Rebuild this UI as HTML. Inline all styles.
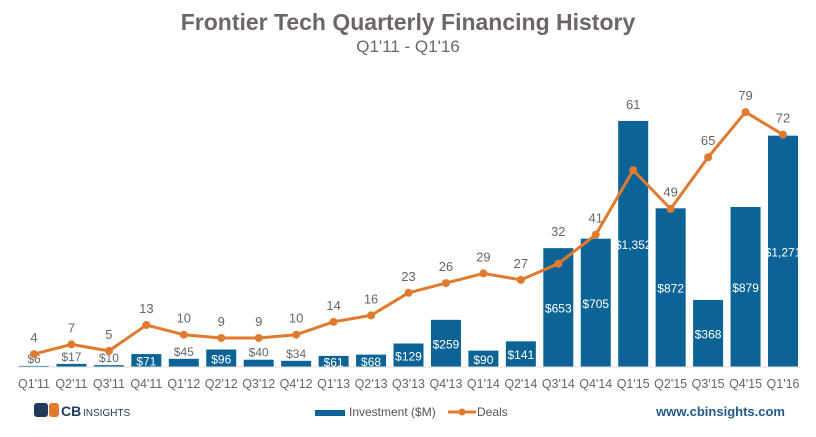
<!DOCTYPE html>
<html><head><meta charset="utf-8"><style>
body{margin:0;background:#fff;font-family:"Liberation Sans",sans-serif;}
svg text{font-family:"Liberation Sans",sans-serif;}
</style></head><body>
<svg id="chart" width="816" height="432" xmlns="http://www.w3.org/2000/svg">
<text x="408" y="30" text-anchor="middle" font-size="23" font-weight="bold" fill="#6e6664">Frontier Tech Quarterly Financing History</text>
<text x="408" y="52" text-anchor="middle" font-size="17" fill="#6e6664">Q1'11 - Q1'16</text>
<g id="bars"></g><g id="line"></g><g id="xlabels"></g>
<line x1="18" y1="367" x2="800" y2="367" stroke="#ddd"/>
<g>
<rect x="34" y="403" width="14" height="14" rx="3" fill="#1f3a5a"/>
<rect x="49" y="403" width="10" height="14" rx="3" fill="#e07a2e"/>
<text x="61" y="416" font-size="14" font-weight="bold" fill="#1f3a5a">CB</text>
<text x="83" y="416" font-size="10" fill="#1f3a5a">INSIGHTS</text>
</g>
<g>
<rect x="315" y="410" width="30" height="6" fill="#0b6396"/>
<text x="349" y="416" font-size="12" fill="#555">Investment ($M)</text>
<line x1="448" y1="412" x2="476" y2="412" stroke="#e07a2e" stroke-width="3"/>
<circle cx="462" cy="412" r="3.5" fill="#e07a2e"/>
<text x="477" y="416" font-size="12" fill="#555">Deals</text>
</g>
<text x="785" y="416" text-anchor="end" font-size="13" font-weight="bold" fill="#1f5a8a">www.cbinsights.com</text>
</svg>
<script>
const categories=["Q1'11","Q2'11","Q3'11","Q4'11","Q1'12","Q2'12","Q3'12","Q4'12","Q1'13","Q2'13","Q3'13","Q4'13","Q1'14","Q2'14","Q3'14","Q4'14","Q1'15","Q2'15","Q3'15","Q4'15","Q1'16"];
const investment=[6,17,10,71,45,96,40,34,61,68,129,259,90,141,653,705,1352,872,368,879,1271];
const investmentLabels=["$6","$17","$10","$71","$45","$96","$40","$34","$61","$68","$129","$259","$90","$141","$653","$705","$1,352","$872","$368","$879","$1,271"];
const deals=[4,7,5,13,10,9,9,10,14,16,23,26,29,27,32,41,61,49,65,79,72];
const NS="http://www.w3.org/2000/svg";
const x0=34,step=(783-34)/20,base=367,bw=30;
function xPos(i){return x0+i*step;}
function yBar(v){return base-v*0.182;}
function yDeal(v){return base-v*3.227;}
function mk(tag,attrs,parent){const e=document.createElementNS(NS,tag);for(const k in attrs)e.setAttribute(k,attrs[k]);parent.appendChild(e);return e;}
const gb=document.getElementById('bars'),gl=document.getElementById('line'),gx=document.getElementById('xlabels');
investment.forEach((v,i)=>{
  const top=yBar(v),h=base-top;
  const r=mk('rect',{x:xPos(i)-bw/2,y:top,width:bw,height:h,fill:'#0b6396'},gb);
  
  
  const inside=h>=11;
  const t=mk('text',{x:xPos(i),y:inside?(top+h/2+5):(top-3),'text-anchor':'middle','font-size':'12',fill:inside?'#fff':'#666'},gb);
  t.textContent=investmentLabels[i];
  
  
  const xl=mk('text',{x:xPos(i),y:388,'text-anchor':'middle','font-size':'12.5',fill:'#666'},gx);
  xl.textContent=categories[i];
  
  
});
const pts=deals.map((d,i)=>xPos(i)+','+yDeal(d)).join(' ');
const pl=mk('polyline',{points:pts,fill:'none',stroke:'#e07a2e','stroke-width':'3','stroke-linejoin':'round'},gl);


deals.forEach((d,i)=>{
  const c=mk('circle',{cx:xPos(i),cy:yDeal(d),r:4,fill:'#e07a2e'},gl);
  
  
  const ly=Math.min(yDeal(d)-12,yBar(investment[i])-12);
  const t=mk('text',{x:xPos(i),y:ly,'text-anchor':'middle','font-size':'13',fill:'#666'},gl);
  t.textContent=d;
  
  
});
</script>
</body></html>
